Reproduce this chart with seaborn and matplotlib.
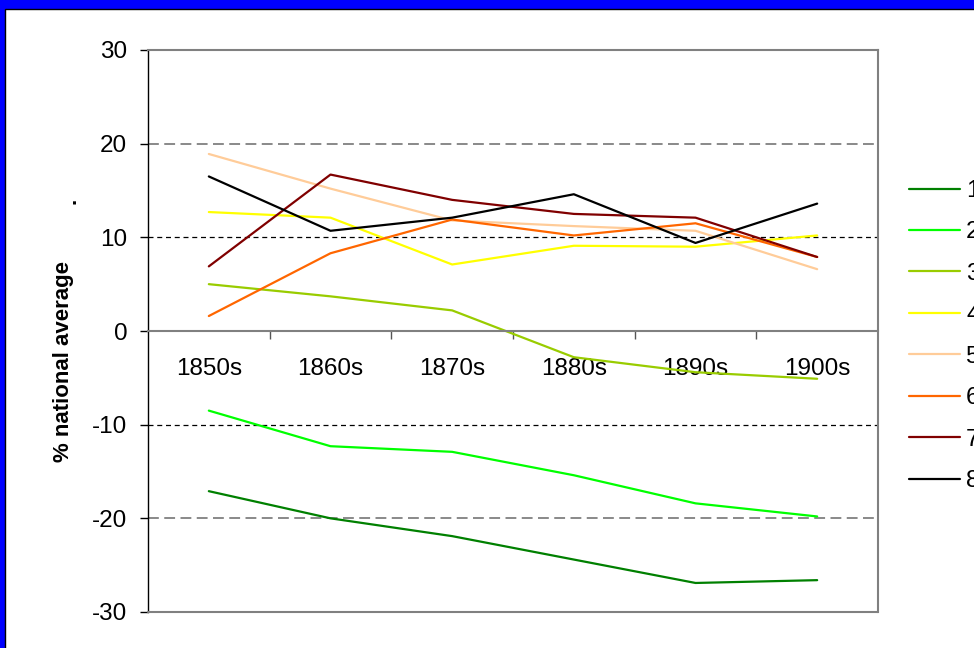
import matplotlib
matplotlib.use("Agg")
import matplotlib.pyplot as plt
import matplotlib.patches as mpatches
from matplotlib.ticker import FixedLocator, NullFormatter
import seaborn as sns
import pandas as pd

# ---- data ----
decades = ["1850s", "1860s", "1870s", "1880s", "1890s", "1900s"]
series_names = ["1", "2", "3", "4", "5", "6", "7", "8"]
s1 = [-17.1, -20.0, -21.9, -24.4, -26.9, -26.6]
s2 = [-8.5, -12.3, -12.9, -15.4, -18.4, -19.8]
s3 = [5.0, 3.7, 2.2, -2.8, -4.4, -5.1]
s4 = [12.7, 12.1, 7.1, 9.1, 9.0, 10.2]
s5 = [18.9, 15.2, 11.8, 11.2, 10.7, 6.6]
s6 = [1.6, 8.3, 11.9, 10.2, 11.5, 7.9]
s7 = [6.9, 16.7, 14.0, 12.5, 12.1, 7.9]
s8 = [16.5, 10.7, 12.1, 14.6, 9.4, 13.6]
colors = ["#008000", "#00FF00", "#99CC00", "#FFFF00", "#FFCC99", "#FF6600", "#800000", "#000000"]
y_ticks = [-30, -20, -10, 0, 10, 20, 30]
y_label = "% national average"

all_series = [s1, s2, s3, s4, s5, s6, s7, s8]
rows = []
for name, vals in zip(series_names, all_series):
    for i, v in enumerate(vals):
        rows.append({"decade": decades[i], "pos": i, "series": name, "value": v})
df = pd.DataFrame(rows)
palette = dict(zip(series_names, colors))

sns.set_style("white")
plt.rcParams["font.family"] = ["Liberation Sans", "DejaVu Sans"]
plt.rcParams["text.color"] = "black"
plt.rcParams["xtick.color"] = "black"
plt.rcParams["ytick.color"] = "black"

W, H = 974, 648
fig = plt.figure(figsize=(W / 100, H / 100), dpi=100)
fig.patch.set_facecolor("#0000FF")
# white panel with thin dark edge (top and left visible)
panel = mpatches.Rectangle((5 / W, -0.05), 1.1, 1.05 - 9 / H, transform=fig.transFigure,
                           facecolor="white", edgecolor="#000000", linewidth=1.0, zorder=-10)
fig.patches.append(panel)

ax = fig.add_axes([148 / W, 1 - 612 / H, (878 - 148) / W, (612 - 50) / H])
ax.set_facecolor("white")
ax.set_zorder(1)

sns.lineplot(data=df, x="pos", y="value", hue="series", palette=palette, ax=ax,
             linewidth=1.6, legend=False, sort=False)

ax.set_xlim(-0.5, 5.5)
ax.set_ylim(-30, 30)

# gridlines
for yv in [20, -20]:
    ax.axhline(yv, color="#808080", linewidth=1.3, dashes=(6, 3), zorder=0.5)
for yv in [10, -10]:
    ax.axhline(yv, color="#000000", linewidth=0.9, dashes=(4, 3), zorder=0.5)

# spines
ax.spines["left"].set_color("#000000")
ax.spines["left"].set_linewidth(1.0)
ax.spines["top"].set_color("#808080")
ax.spines["top"].set_linewidth(1.5)
ax.spines["right"].set_color("#808080")
ax.spines["right"].set_linewidth(1.5)
ax.spines["bottom"].set_position(("data", 0))
ax.spines["bottom"].set_color("#808080")
ax.spines["bottom"].set_linewidth(1.5)
ax.plot([0, 1], [0, 0], transform=ax.transAxes, color="#808080", linewidth=1.5, clip_on=False, zorder=3)

# y ticks
ax.set_yticks(y_ticks)
ax.set_yticklabels([str(t) for t in y_ticks])
ax.tick_params(axis="y", direction="out", length=6, width=1, color="#000000", pad=9,
               labelsize=17.5, left=True, labelcolor="black")

# x ticks: labels at centres, marks at boundaries
ax.set_xticks(range(len(decades)))
ax.set_xticklabels(decades)
ax.xaxis.set_minor_locator(FixedLocator([i + 0.5 for i in range(len(decades) - 1)]))
ax.xaxis.set_minor_formatter(NullFormatter())
ax.tick_params(axis="x", which="major", length=0, pad=19.5, labelsize=17.5, bottom=True, labelcolor="black")
ax.tick_params(axis="x", which="minor", direction="out", length=5.5, width=1, color="#555555", bottom=True)
ax.set_xlabel("")
ax.set_ylabel("")

# y label and dot
fig.text(64 / W, 1 - 362 / H, y_label, rotation=90, ha="center", va="center",
         fontsize=16, fontweight="bold", color="black")
fig.text(70 / W, 1 - 201 / H, ".", rotation=90, ha="center", va="center",
         fontsize=16, fontweight="bold", color="black")

# legend
handles = [plt.Line2D([], [], color=c, linewidth=1.6) for c in colors]
fig.legend(handles, series_names, loc="upper left", bbox_to_anchor=(909 / W, 1 - 180 / H),
           frameon=False, fontsize=17.5, handlelength=2.1, handletextpad=0.25,
           labelspacing=0.8, borderpad=0, borderaxespad=0, labelcolor="black")

fig.savefig("out.png", dpi=100, facecolor=fig.get_facecolor())
